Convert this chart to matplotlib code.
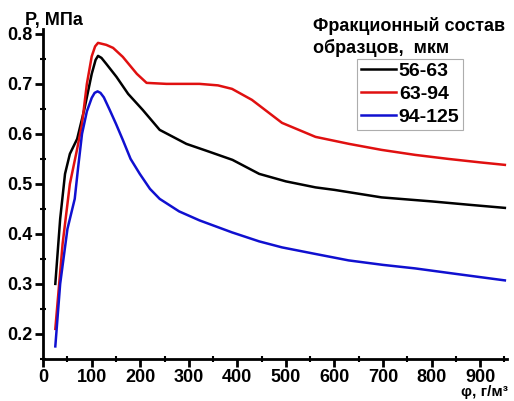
import matplotlib.pyplot as plt
from matplotlib.ticker import MultipleLocator

plt.rcParams["font.family"] = ["Liberation Sans", "DejaVu Sans"]
plt.rcParams["font.weight"] = "bold"

# fraction 56-63 um
x_black = [25, 35, 45, 55, 70, 85, 100, 108, 113, 120, 130, 151, 175, 205, 240, 295,
           340, 390, 445, 500, 561, 600, 697, 800, 880, 951]
y_black = [0.30, 0.43, 0.52, 0.56, 0.59, 0.65, 0.72, 0.748, 0.756, 0.752, 0.74, 0.714,
           0.68, 0.648, 0.608, 0.58, 0.565, 0.548, 0.52, 0.505, 0.493, 0.488, 0.473,
           0.465, 0.458, 0.452]

# fraction 63-94 um
x_red = [25, 40, 55, 70, 80, 90, 100, 107, 113, 130, 144, 164, 193, 213, 254, 322,
         360, 389, 430, 492, 561, 630, 697, 766, 834, 900, 951]
y_red = [0.21, 0.38, 0.50, 0.57, 0.62, 0.70, 0.755, 0.775, 0.782, 0.778, 0.772, 0.754,
         0.72, 0.702, 0.70, 0.70, 0.697, 0.69, 0.668, 0.622, 0.594, 0.58, 0.568, 0.558,
         0.55, 0.543, 0.538]

# fraction 94-125 um
x_blue = [25, 35, 50, 65, 72, 80, 90, 100, 106, 112, 118, 125, 137, 150, 164, 180,
          199, 220, 240, 280, 322, 389, 445, 492, 560, 629, 700, 766, 850, 951]
y_blue = [0.175, 0.30, 0.41, 0.47, 0.533, 0.60, 0.645, 0.672, 0.682, 0.685, 0.682,
          0.673, 0.648, 0.62, 0.588, 0.55, 0.52, 0.49, 0.47, 0.445, 0.427, 0.403,
          0.385, 0.373, 0.36, 0.347, 0.338, 0.331, 0.32, 0.307]

labels = ["56-63", "63-94", "94-125"]

fig = plt.figure(figsize=(5.14, 4.01), dpi=100)
ax = fig.add_axes([0.084, 0.105, 0.902, 0.823])

ax.plot(x_black, y_black, color="black", lw=1.8, label=labels[0])
ax.plot(x_red, y_red, color="#e01010", lw=1.8, label=labels[1])
ax.plot(x_blue, y_blue, color="#1010d0", lw=1.8, label=labels[2])

ax.set_xlim(0, 955)
ax.set_ylim(0.15, 0.81)
ax.spines["top"].set_visible(False)
ax.spines["right"].set_visible(False)
ax.spines["left"].set_linewidth(2)
ax.spines["bottom"].set_linewidth(2)

ax.xaxis.set_major_locator(MultipleLocator(100))
ax.xaxis.set_minor_locator(MultipleLocator(50))
ax.yaxis.set_major_locator(MultipleLocator(0.1))
ax.yaxis.set_minor_locator(MultipleLocator(0.05))
ax.tick_params(which="major", length=6, width=2, labelsize=13, direction="out", pad=1.5)
ax.tick_params(which="minor", length=4, width=1.5, direction="inout")
ax.set_yticks([0.2, 0.3, 0.4, 0.5, 0.6, 0.7, 0.8])
ax.set_yticklabels(["0.2", "0.3", "0.4", "0.5", "0.6", "0.7", "0.8"])

fig.text(0.049, 0.95, "P, МПа", fontsize=13, fontweight="bold", va="center")
fig.text(0.988, 0.004, "φ, г/м³", fontsize=11, fontweight="bold",
         ha="right", va="bottom")

leg = ax.legend(loc="upper left", bbox_to_anchor=(0.677, 0.91), fontsize=14,
                frameon=True, fancybox=False, edgecolor="#999999",
                handlelength=1.8, handletextpad=0.15, borderpad=0.2,
                labelspacing=0.27, borderaxespad=0)
leg.get_frame().set_linewidth(0.8)
fig.text(0.609, 0.908, "Фракционный состав\nобразцов,  мкм", fontsize=13,
         fontweight="bold", ha="left", va="center", linespacing=1.25)

fig.savefig("out.png", dpi=100)
